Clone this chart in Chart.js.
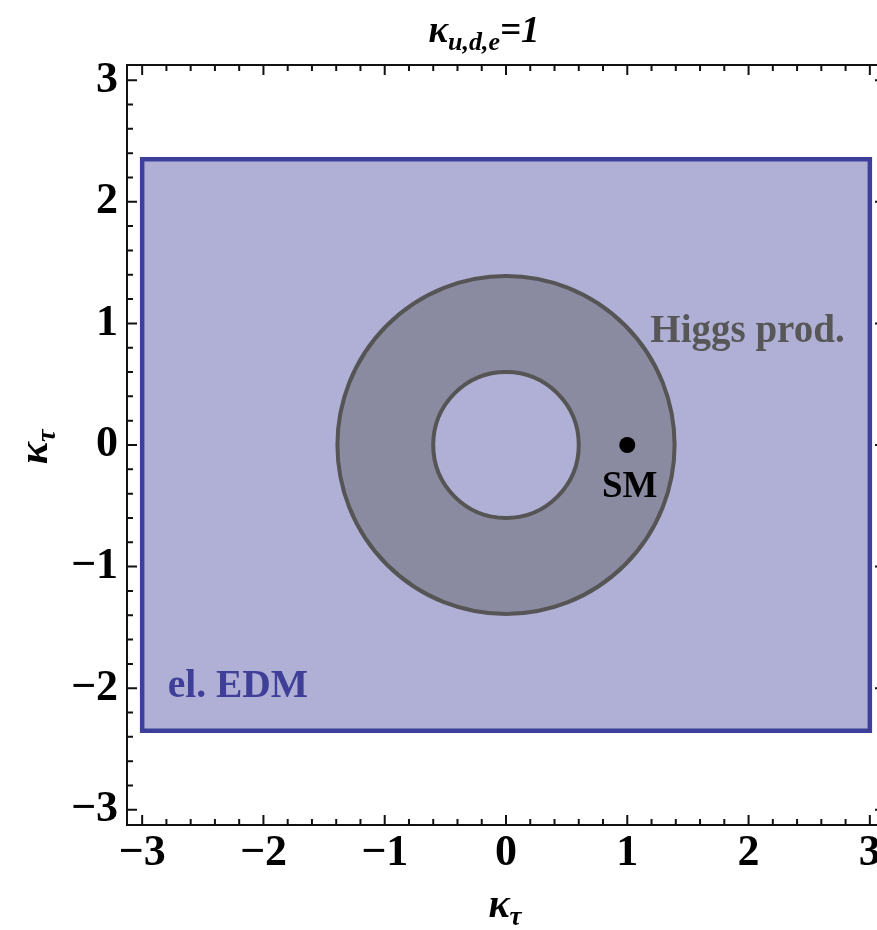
<!DOCTYPE html>
<html>
<head>
<meta charset="utf-8">
<title>kappa_tau constraints</title>
<script src="https://cdn.jsdelivr.net/npm/chart.js@4.4.1/dist/chart.umd.min.js"></script>
<style>
    html, body { margin: 0; padding: 0; background: #fff; overflow: hidden; }
    #wrap { width: 900px; height: 930px; }
</style>
</head>
<body>
<div id="wrap"><canvas id="kappa-chart" width="900" height="930"></canvas></div>
<script>
// Both axes are kappa_tau, shown over the same window.
const axisRange = [-3.125, 3.125];
const majorTicks = [-3, -2, -1, 0, 1, 2, 3];
const tickLabels = ["\u22123", "\u22122", "\u22121", "0", "1", "2", "3"];

// Allowed regions.
const edmBox = { xMin: -3, xMax: 3, yMin: -2.35, yMax: 2.35 };
const higgsRing = { cx: 0, cy: 0, rOuter: 1.39, rInner: 0.6 };
const smPoint = [{ x: 1, y: 0 }];

// Region labels, anchored in data coordinates.
const regionLabels = [
    { text: "Higgs prod.", x: 1.19, y: 0.85, color: "#575757", align: "left", size: 39 },
    { text: "el. EDM", x: -2.79, y: -2.07, color: "#3f3f99", align: "left", size: 39.5 },
    { text: "SM", x: 1.02, y: -0.43, color: "#000000", align: "center", size: 37 },
];

const EDM_FILL = "#b0b0d6";
const EDM_LINE = "#3e3e9b";
const RING_FILL = "#8a8aa0";
const RING_LINE = "#555555";
const SERIF = "'Liberation Serif', 'Times New Roman', serif";

function minorTicks() {
    // four minor ticks between majors
    const out = [];
    for (let i = 0; i < majorTicks.length - 1; i++) {
        const a = majorTicks[i], b = majorTicks[i + 1];
        for (let k = 1; k < 5; k++) out.push(a + ((b - a) * k) / 5);
    }
    return out;
}

function drawParts(ctx, parts, x, y, align) {
    // draw a run of text pieces (main + subscripts) on one baseline
    let total = 0;
    for (const p of parts) { ctx.font = p.font; total += ctx.measureText(p.text).width; }
    let cur = align === "center" ? x - total / 2 : x;
    ctx.textAlign = "left";
    ctx.textBaseline = "alphabetic";
    for (const p of parts) {
        ctx.font = p.font;
        ctx.fillText(p.text, cur, y + (p.dy || 0));
        cur += ctx.measureText(p.text).width;
    }
}

const regionsPlugin = {
    id: "regions",
    beforeDatasetsDraw(chart) {
        const { ctx, chartArea, scales } = chart;
        const xs = scales.x, ys = scales.y;
        ctx.save();
        ctx.beginPath();
        ctx.rect(chartArea.left, chartArea.top, chartArea.width, chartArea.height);
        ctx.clip();

        // electron EDM box
        const x0 = xs.getPixelForValue(edmBox.xMin), x1 = xs.getPixelForValue(edmBox.xMax);
        const y0 = ys.getPixelForValue(edmBox.yMax), y1 = ys.getPixelForValue(edmBox.yMin);
        ctx.fillStyle = EDM_FILL;
        ctx.fillRect(x0, y0, x1 - x0, y1 - y0);
        ctx.lineWidth = 4.5;
        ctx.strokeStyle = EDM_LINE;
        ctx.strokeRect(x0, y0, x1 - x0, y1 - y0);

        // Higgs production ring
        const cx = xs.getPixelForValue(higgsRing.cx), cy = ys.getPixelForValue(higgsRing.cy);
        const rx = r => xs.getPixelForValue(higgsRing.cx + r) - cx;
        const ry = r => cy - ys.getPixelForValue(higgsRing.cy + r);
        ctx.lineWidth = 4;
        ctx.strokeStyle = RING_LINE;
        ctx.beginPath();
        ctx.ellipse(cx, cy, rx(higgsRing.rOuter), ry(higgsRing.rOuter), 0, 0, Math.PI * 2);
        ctx.fillStyle = RING_FILL;
        ctx.fill();
        ctx.stroke();
        ctx.beginPath();
        ctx.ellipse(cx, cy, rx(higgsRing.rInner), ry(higgsRing.rInner), 0, 0, Math.PI * 2);
        ctx.fillStyle = EDM_FILL;
        ctx.fill();
        ctx.stroke();

        for (const l of regionLabels) {
            ctx.fillStyle = l.color;
            ctx.font = `bold ${l.size}px ${SERIF}`;
            ctx.textAlign = l.align;
            ctx.textBaseline = "alphabetic";
            ctx.fillText(l.text, xs.getPixelForValue(l.x), ys.getPixelForValue(l.y));
        }
        ctx.restore();
    },
    afterDraw(chart) {
        const { ctx, chartArea: a, scales } = chart;
        const xs = scales.x, ys = scales.y;
        ctx.save();
        ctx.strokeStyle = "#111";
        ctx.lineWidth = 2;
        ctx.strokeRect(a.left, a.top, a.right - a.left, a.bottom - a.top);

        // inward ticks on all four sides
        const tick = (v, len) => {
            const px = xs.getPixelForValue(v), py = ys.getPixelForValue(v);
            ctx.beginPath();
            ctx.moveTo(px, a.bottom); ctx.lineTo(px, a.bottom - len);
            ctx.moveTo(px, a.top); ctx.lineTo(px, a.top + len);
            ctx.moveTo(a.left, py); ctx.lineTo(a.left + len, py);
            ctx.moveTo(a.right, py); ctx.lineTo(a.right - len, py);
            ctx.stroke();
        };
        majorTicks.forEach(v => tick(v, 10));
        minorTicks().forEach(v => tick(v, 6));

        // titles
        ctx.fillStyle = "#000";
        const big = `italic bold 37px ${SERIF}`;
        const sub = `italic bold 26px ${SERIF}`;
        drawParts(ctx, [
            { text: "\u03ba", font: big },
            { text: "u,d,e", font: sub, dy: 8 },
            { text: "=1", font: big },
        ], 484, 42, "center");

        drawParts(ctx, [
            { text: "\u03ba", font: `italic bold 40px ${SERIF}` },
            { text: "\u03c4", font: `italic bold 27px ${SERIF}`, dy: 8 },
        ], 505, 917, "center");
        ctx.save();
        ctx.translate(47, 447);
        ctx.rotate(-Math.PI / 2);
        drawParts(ctx, [
            { text: "\u03ba", font: `italic bold 42px ${SERIF}` },
            { text: "\u03c4", font: `italic bold 28px ${SERIF}`, dy: 8 },
        ], 0, 0, "center");
        ctx.restore();
        ctx.restore();
    },
};

function axisOptions(side) {
    return {
        type: "linear",
        min: axisRange[0],
        max: axisRange[1],
        border: { display: false },
        grid: { display: false, drawTicks: false },
        afterBuildTicks: s => { s.ticks = majorTicks.map(v => ({ value: v })); },
        afterFit: s => {
            if (side === "x") s.height = 105;
            else s.width = 127;
        },
        ticks: {
            color: "#000",
            padding: side === "x" ? 2 : 9,
            font: { family: SERIF, weight: "bold", size: 44, lineHeight: 1.2 },
            callback: v => tickLabels[majorTicks.indexOf(v)] ?? "",
            maxRotation: 0,
        },
    };
}

function initKappaChart() {
    const canvas = document.getElementById("kappa-chart");
    new Chart(canvas, {
        type: "scatter",
        data: {
            datasets: [{
                label: "SM",
                data: smPoint,
                pointRadius: 8,
                pointHoverRadius: 8,
                backgroundColor: "#000",
                borderColor: "#000",
                borderWidth: 0,
            }],
        },
        options: {
            responsive: false,
            animation: false,
            layout: { padding: { left: 0, top: 65, right: 15, bottom: 0 } },
            plugins: {
                legend: { display: false },
                title: { display: false },
                tooltip: { enabled: false },
            },
            scales: { x: axisOptions("x"), y: axisOptions("y") },
        },
        plugins: [regionsPlugin],
    });
}

initKappaChart();
</script>
</body>
</html>
